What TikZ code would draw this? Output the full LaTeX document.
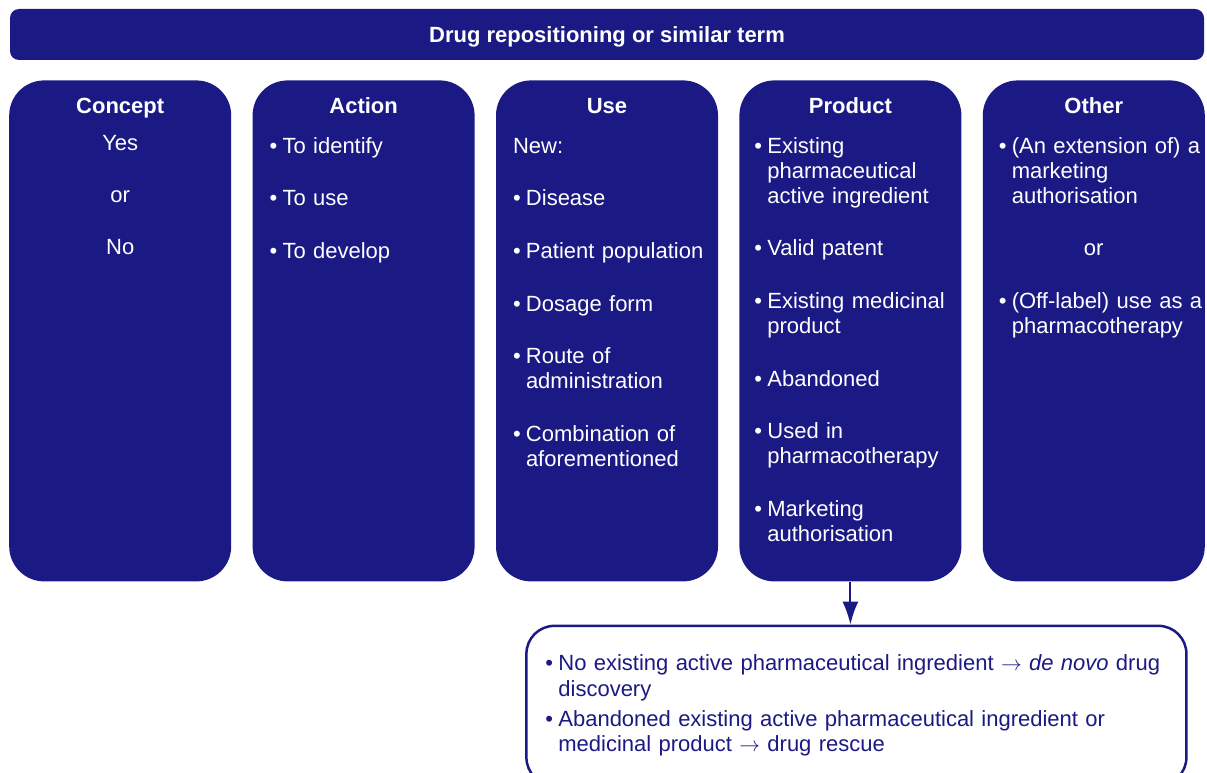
\documentclass[tikz,border=0pt]{standalone}
\usepackage{fontspec}
\setmainfont{Liberation Sans}
\usetikzlibrary{shapes,arrows.meta,positioning}

\definecolor{navy}{RGB}{27,26,133}
\newcommand{\bodyfont}{\fontsize{22}{25}\selectfont}
\newcommand{\bitem}[1]{\hangindent=13pt\hangafter=1\noindent\makebox[13pt][l]{\textbullet}#1\par}

\begin{document}
\begin{tikzpicture}

\tikzstyle{banner} = [rectangle, fill=navy, text=white, font=\bodyfont\bfseries,
    rounded corners=9pt, minimum width=1194pt, minimum height=51pt, text height=16pt, text depth=0pt]
\tikzstyle{colbox} = [rectangle, fill=navy, rounded corners=35pt,
    minimum width=222pt, minimum height=501pt, inner sep=0pt]
\tikzstyle{head} = [text=white, font=\bodyfont\bfseries, anchor=base, inner sep=0pt]
\tikzstyle{choice} = [text=white, font=\bodyfont, text width=100pt, align=center, anchor=base, inner sep=0pt]
\tikzstyle{items} = [text=white, font=\bodyfont, text width=204pt, align=left, anchor=base west,
    inner sep=0pt, execute at begin node={\raggedright\hyphenpenalty=10000\setlength{\parskip}{27.6pt}}]
\tikzstyle{note} = [rectangle, draw=navy, line width=2.5pt, fill=white, text=navy,
    font=\fontsize{22}{25.5}\selectfont, rounded corners=28pt, text width=622pt, align=left,
    inner xsep=19pt, inner ysep=29pt,
    execute at begin node={\raggedright\hyphenpenalty=10000\setlength{\parskip}{4.5pt}}]
\tikzstyle{line} = [draw=navy, line width=2pt, -{Latex[length=23pt,width=16pt]}]

\useasboundingbox (0pt,0pt) rectangle (1207pt,-773pt);

\node [banner] (term) at (607pt,-34.5pt) {Drug repositioning or similar term};

% five columns
\node [colbox, below=20pt of term] (use) {};
\node [colbox, left=21pt of use] (action) {};
\node [colbox, left=21pt of action] (concept) {};
\node [colbox, right=21pt of use] (product) {};
\node [colbox, right=21pt of product] (other) {};

\node [head] (concepthead) at ([yshift=-33pt]concept.north) {Concept};
\node [head] (actionhead) at ([yshift=-33pt]action.north) {Action};
\node [head] (usehead) at ([yshift=-33pt]use.north) {Use};
\node [head] (producthead) at ([yshift=-33pt]product.north) {Product};
\node [head] (otherhead) at ([yshift=-33pt]other.north) {Other};

\node [choice] (conceptlist) at ([yshift=-70pt]concept.north) {Yes\\[27pt]or\\[27pt]No};
\node [items] (actionlist) at ([xshift=17pt,yshift=-73pt]action.north west)
  {\bitem{To identify}\bitem{To use}\bitem{To develop}};
\node [items] (uselist) at ([xshift=17pt,yshift=-73pt]use.north west)
  {\noindent New:\par
   \bitem{Disease}\bitem{Patient population}\bitem{Dosage form}
   \bitem{Route of administration}\bitem{Combination of aforementioned}};
\node [items] (productlist) at ([xshift=15pt,yshift=-73pt]product.north west)
  {\bitem{Existing pharmaceutical active ingredient}\bitem{Valid patent}
   \bitem{Existing medicinal product}\bitem{Abandoned}
   \bitem{Used in pharmacotherapy}\bitem{Marketing authorisation}};
\node [items] (otherlist) at ([xshift=16pt,yshift=-73pt]other.north west)
  {\bitem{(An extension of) a marketing authorisation}
   \noindent\hspace*{85pt}or\par
   \bitem{(Off-label) use as a pharmacotherapy}};

% outcome below the product column
\node [note, below=43pt of product, xshift=6pt] (outcome)
  {\bitem{No existing active pharmaceutical ingredient $\rightarrow$ \textit{de novo} drug discovery}
   \bitem{Abandoned existing active pharmaceutical ingredient or medicinal product $\rightarrow$ drug rescue}};

\path [line] (product.south) -- (product.south |- outcome.north);
\end{tikzpicture}
\end{document}
